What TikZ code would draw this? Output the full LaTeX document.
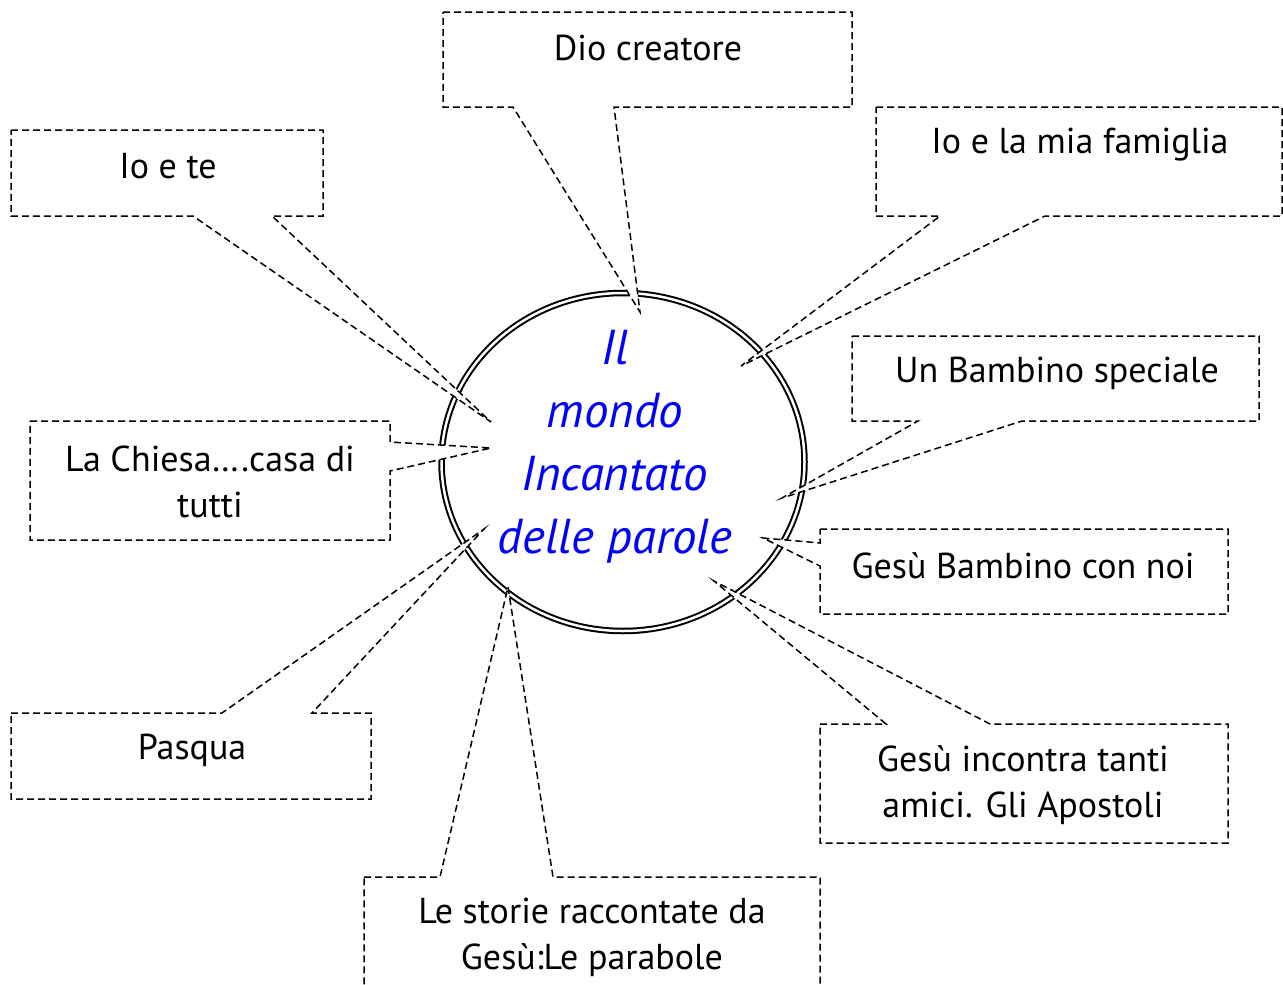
\documentclass[tikz,border=0pt]{standalone}
\usepackage{fontspec}
\setmainfont{PT Sans}
\usetikzlibrary{shapes.geometric}
\begin{document}
\begin{tikzpicture}[x=1pt,y=-1pt,
  callout/.style={draw=black, fill=white, line width=1.5pt, dash pattern=on 7pt off 4pt, line join=miter},
  lbl/.style={font=\fontsize{36}{46}\selectfont, align=center, text=black, inner sep=0pt},
  ctr/.style={font=\fontsize{49}{63}\selectfont\itshape, text=blue, align=center, inner sep=0pt},
  ring/.style={draw=black, line width=2pt, double=white, double distance=2.5pt}
]
\useasboundingbox (0,0) rectangle (1283,985);
\clip (0,0) rectangle (1283,985);
% central circle
\node[ring, ellipse, minimum width=363pt, minimum height=338pt, inner sep=0pt] (world) at (623,462) {};
% tips of the callouts
\coordinate (tDio) at (640,312);
\coordinate (tIo) at (491,422);
\coordinate (tFam) at (741,366);
\coordinate (tBam) at (782,498);
\coordinate (tNoi) at (763,538);
\coordinate (tApo) at (714,581);
\coordinate (tSto) at (508,587);
\coordinate (tPas) at (484,529);
\coordinate (tChi) at (491,448);
% callouts
\path[callout] (443,12) -- (852,12) -- (852,107) -- (614,107) -- (tDio) -- (513,107) -- (443,107) -- cycle;
\path[callout] (11,130) -- (323,130) -- (323,216) -- (272,216) -- (tIo) -- (193,216) -- (11,216) -- cycle;
\path[callout] (876,107) -- (1282,107) -- (1282,216) -- (1045,216) -- (tFam) -- (940,216) -- (876,216) -- cycle;
\path[callout] (852,336) -- (1259,336) -- (1259,421) -- (1022,421) -- (tBam) -- (918,421) -- (852,421) -- cycle;
\path[callout] (820,529) -- (1228,529) -- (1228,614) -- (820,614) -- (820,566) -- (tNoi) -- (820,543) -- cycle;
\path[callout] (820,724) -- (886,724) -- (tApo) -- (990,724) -- (1228,724) -- (1228,843) -- (820,843) -- cycle;
\path[callout] (364,877) -- (440,877) -- (tSto) -- (553,877) -- (820,877) -- (820,1000) -- (364,1000) -- cycle;
\path[callout] (11,713) -- (222,713) -- (tPas) -- (312,713) -- (371,713) -- (371,799) -- (11,799) -- cycle;
\path[callout] (30,421) -- (390,421) -- (390,442) -- (tChi) -- (390,471) -- (390,540) -- (30,540) -- cycle;
% texts
\node[lbl] (dio) at (648,48) {Dio creatore};
\node[lbl] (iote) at (168,166) {Io e te};
\node[lbl] (fam) at (1080,145) {Io e la mia famiglia};
\node[lbl] (bam) at (1057,373) {Un Bambino speciale};
\node[lbl] (noi) at (1023,566) {Gesù Bambino con noi};
\node[lbl] (apo) at (1023,785) {Gesù incontra tanti\\amici. Gli Apostoli};
\node[lbl] (sto) at (592,937) {Le storie raccontate da\\Gesù:Le parabole};
\node[lbl] (pas) at (192,750) {Pasqua};
\node[lbl] (chi) at (210,482) {La Chiesa….casa di\\tutti};
\node[ctr] (title) at (615,447) {Il\\mondo\\Incantato\\delle parole};
\end{tikzpicture}
\end{document}
